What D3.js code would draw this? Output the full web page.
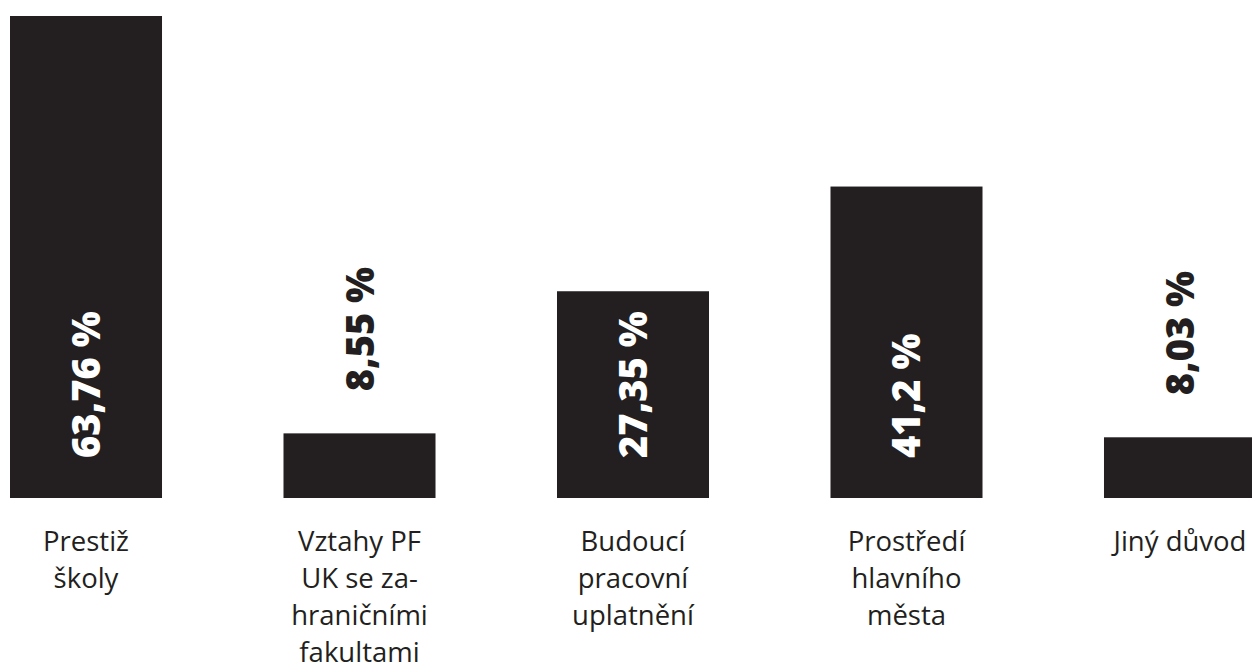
<!DOCTYPE html>
<html><head><meta charset="utf-8">
<script src="https://cdn.jsdelivr.net/npm/d3@7"></script>
<style>html,body{margin:0;padding:0;background:#fff;overflow:hidden}</style>
</head><body>
<script>
const categories = ["Prestiž školy","Vztahy PF UK se zahraničními fakultami","Budoucí pracovní uplatnění","Prostředí hlavního města","Jiný důvod"];
const categoryLines = [["Prestiž","školy"],["Vztahy PF","UK se za-","hraničními","fakultami"],["Budoucí","pracovní","uplatnění"],["Prostředí","hlavního","města"],["Jiný důvod"]];
const values = [63.76, 8.55, 27.35, 41.2, 8.03];
const valueLabels = ["63,76 %","8,55 %","27,35 %","41,2 %","8,03 %"];

const W = 1252, H = 668;
const col = "#231f20";
const svg = d3.select("body").append("svg").attr("width", W).attr("height", H);

const x = d3.scaleBand().domain(categories).range([10, 1256]).paddingInner(0.4442).paddingOuter(0);
const y = d3.scaleLinear().domain([0, 63.76]).range([498, 16]);

const g = svg.append("g");
g.selectAll("rect").data(categories).join("rect")
  .attr("x", d => x(d)).attr("width", x.bandwidth())
  .attr("y", (d,i) => y(values[i])).attr("height", (d,i) => y(0) - y(values[i]))
  .attr("fill", col);

const inside = i => values[i] > 20;
g.selectAll("text.val").data(categories).join("text").attr("class","val")
  .attr("transform", (d,i) => {
    const cx = x(d) + x.bandwidth()/2;
    const yy = inside(i) ? y(0) - 40 : y(values[i]) - 42;
    return `translate(${cx + 14},${yy}) rotate(-90)`;
  })
  .attr("text-anchor","start")
  .attr("font-family","'Open Sans', sans-serif").attr("font-weight",800).attr("font-size",38)
  .attr("fill", (d,i) => inside(i) ? "#fff" : col)
  .text((d,i) => valueLabels[i]);

const cl = g.selectAll("text.cat").data(categories).join("text").attr("class","cat")
  .attr("y", 551)
  .attr("text-anchor","middle")
  .attr("font-family","'Open Sans', sans-serif").attr("font-size",27.5)
  .attr("fill", col);
cl.each(function(d,i){
  const t = d3.select(this);
  categoryLines[i].forEach((ln,j) => {
    t.append("tspan").attr("y", 551 + j*37).text(ln);
  });
  const w = this.getBBox().width;
  const cx = Math.min(x(d) + x.bandwidth()/2, W - w/2 - 3);
  t.selectAll("tspan").attr("x", cx);
});
</script>
</body></html>
